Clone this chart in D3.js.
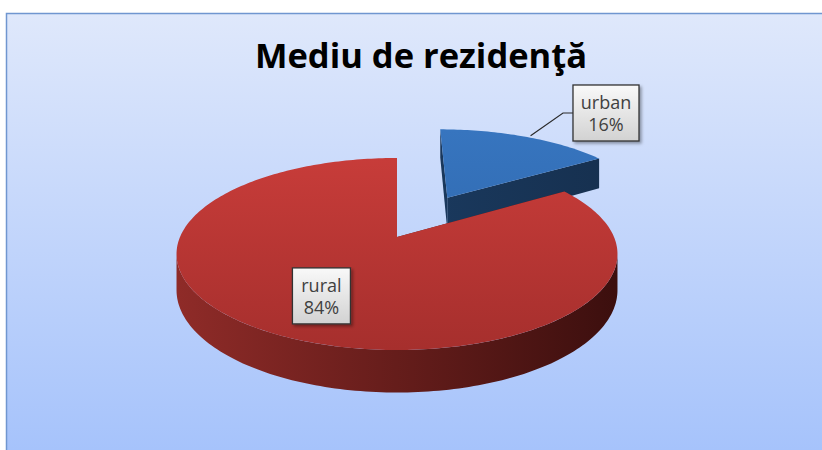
<!DOCTYPE html>
<html>
<head>
<meta charset="utf-8">
<script src="https://cdn.jsdelivr.net/npm/d3@7"></script>
<style>
  html, body { margin: 0; padding: 0; background: #fff; }
  svg { display: block; }
</style>
</head>
<body>
<div id="chart"></div>
<script>
const title = "Mediu de rezidenţă"
const categories = ["urban", "rural"]
const values = [16, 84]
const percentLabels = ["16%", "84%"]

const width = 822, height = 450

// colours per slice: top face gradient and side face gradient
const topColors = { urban: ["#3775bf", "#2b62a6"], rural: ["#cc3e3b", "#a62f2d"] }
const sideColors = { urban: ["#1f4470", "#16304f"], rural: ["#8f2b28", "#3c0f0e"] }
const explode = { urban: 0.52, rural: 0 }

// fake perspective for the tilted pie
const CX = 397, CY = 237, RX = 217, RY = 93, P = 0.177, H = 35

function proj(u, v, z) {
  const w = 1 / (1 + P * v)
  return [CX + u * RX * w, CY - v * RY * w + z * H * w]
}

const svg = d3.select("#chart").append("svg")
  .attr("width", width)
  .attr("height", height)

const defs = svg.append("defs")

const bg = defs.append("linearGradient").attr("id", "bg")
  .attr("x1", 0).attr("y1", 0).attr("x2", 0).attr("y2", 1)
bg.append("stop").attr("offset", "0%").attr("stop-color", "#dfe8fb")
bg.append("stop").attr("offset", "100%").attr("stop-color", "#a3c1fb")

const box = defs.append("linearGradient").attr("id", "box")
  .attr("x1", 0).attr("y1", 0).attr("x2", 0).attr("y2", 1)
box.append("stop").attr("offset", "0%").attr("stop-color", "#f9f9f9")
box.append("stop").attr("offset", "100%").attr("stop-color", "#d2d2d2")

defs.append("filter").attr("id", "shadow")
  .attr("x", "-20%").attr("y", "-20%").attr("width", "150%").attr("height", "150%")
  .append("feDropShadow")
  .attr("dx", 2).attr("dy", 2).attr("stdDeviation", 1.5)
  .attr("flood-color", "#000").attr("flood-opacity", 0.35)

categories.forEach(c => {
  const t = defs.append("linearGradient").attr("id", `top-${c}`)
    .attr("gradientUnits", "userSpaceOnUse")
    .attr("x1", 0).attr("y1", 130).attr("x2", 0).attr("y2", 350)
  t.append("stop").attr("offset", "0%").attr("stop-color", topColors[c][0])
  t.append("stop").attr("offset", "100%").attr("stop-color", topColors[c][1])
  const s = defs.append("linearGradient").attr("id", `side-${c}`)
    .attr("gradientUnits", "userSpaceOnUse")
    .attr("x1", 176).attr("y1", 0).attr("x2", 616).attr("y2", 0)
  s.append("stop").attr("offset", "0%").attr("stop-color", sideColors[c][0])
  s.append("stop").attr("offset", "100%").attr("stop-color", sideColors[c][1])
})

// chart area
svg.append("rect")
  .attr("x", 6.5).attr("y", 13.5)
  .attr("width", 840).attr("height", 460)
  .attr("fill", "url(#bg)")
  .attr("stroke", "#7096d0")
  .attr("stroke-width", 1.5)

svg.append("text")
  .attr("x", 421).attr("y", 68)
  .attr("text-anchor", "middle")
  .attr("font-family", "'Open Sans', sans-serif")
  .attr("font-weight", "bold")
  .attr("font-size", 34.5)
  .attr("fill", "#000")
  .text(title)

const pie = d3.pie().sort(null).value(d => d.value)
const arcs = pie(categories.map((c, i) => ({ name: c, value: values[i], label: percentLabels[i] })))

const line = d3.line()

function arcPoints(a0, a1, ox, oy, z) {
  const n = Math.max(2, Math.ceil((a1 - a0) / 0.02))
  return d3.range(n + 1).map(i => {
    const a = a0 + (a1 - a0) * i / n
    return proj(ox + Math.sin(a), oy + Math.cos(a), z)
  })
}

// visible part of the outer wall
const visA0 = Math.acos(-P), visA1 = 2 * Math.PI - Math.acos(-P)

const g = svg.append("g")

arcs.forEach(d => {
  const name = d.data.name
  const mid = (d.startAngle + d.endAngle) / 2
  const ox = explode[name] * Math.sin(mid), oy = explode[name] * Math.cos(mid)
  const slice = g.append("g")

  // radial walls
  ;[d.startAngle, d.endAngle].forEach(a => {
    const e = [ox + Math.sin(a), oy + Math.cos(a)]
    const pts = [proj(ox, oy, 0), proj(e[0], e[1], 0), proj(e[0], e[1], 1), proj(ox, oy, 1)]
    slice.append("path")
      .attr("d", line(pts) + "Z")
      .attr("fill", `url(#side-${name})`)
  })

  // outer wall
  const w0 = Math.max(d.startAngle, visA0), w1 = Math.min(d.endAngle, visA1)
  if (w1 > w0) {
    const top = arcPoints(w0, w1, ox, oy, 0)
    const bottom = arcPoints(w0, w1, ox, oy, 1).reverse()
    slice.append("path")
      .attr("d", line(top.concat(bottom)) + "Z")
      .attr("fill", `url(#side-${name})`)
  }

  // top face
  const face = [proj(ox, oy, 0)].concat(arcPoints(d.startAngle, d.endAngle, ox, oy, 0))
  slice.append("path")
    .attr("d", line(face) + "Z")
    .attr("fill", `url(#top-${name})`)
})

// data labels
function labelBox(cx, cy, w, h, lines) {
  const lg = svg.append("g")
  lg.append("rect")
    .attr("x", cx - w / 2).attr("y", cy - h / 2)
    .attr("width", w).attr("height", h)
    .attr("fill", "url(#box)")
    .attr("stroke", "#333")
    .attr("stroke-width", 1.3)
    .attr("filter", "url(#shadow)")
  lg.selectAll("text")
    .data(lines)
    .join("text")
    .attr("x", cx)
    .attr("y", (t, i) => cy - 4 + i * 22)
    .attr("text-anchor", "middle")
    .attr("font-family", "'Open Sans', sans-serif")
    .attr("font-size", 18)
    .attr("fill", "#404040")
    .text(t => t)
}

arcs.forEach(d => {
  const name = d.data.name
  const mid = (d.startAngle + d.endAngle) / 2
  const e = explode[name]
  if (name === "urban") {
    // outside label with leader line
    const anchor = proj((e + 1) * Math.sin(mid), (e + 1) * Math.cos(mid), 0)
    const bx = 606, by = 113
    svg.append("path")
      .attr("d", line([[anchor[0] + 5, anchor[1] - 1], [563, by], [bx - 33, by]]))
      .attr("fill", "none")
      .attr("stroke", "#2a2a2a")
      .attr("stroke-width", 1.2)
    labelBox(bx, by, 66, 56, [d.data.name, d.data.label])
  } else {
    const p = proj(0.65 * Math.sin(mid), 0.65 * Math.cos(mid), 0)
    labelBox(p[0], p[1], 58, 56, [d.data.name, d.data.label])
  }
})
</script>
</body>
</html>
